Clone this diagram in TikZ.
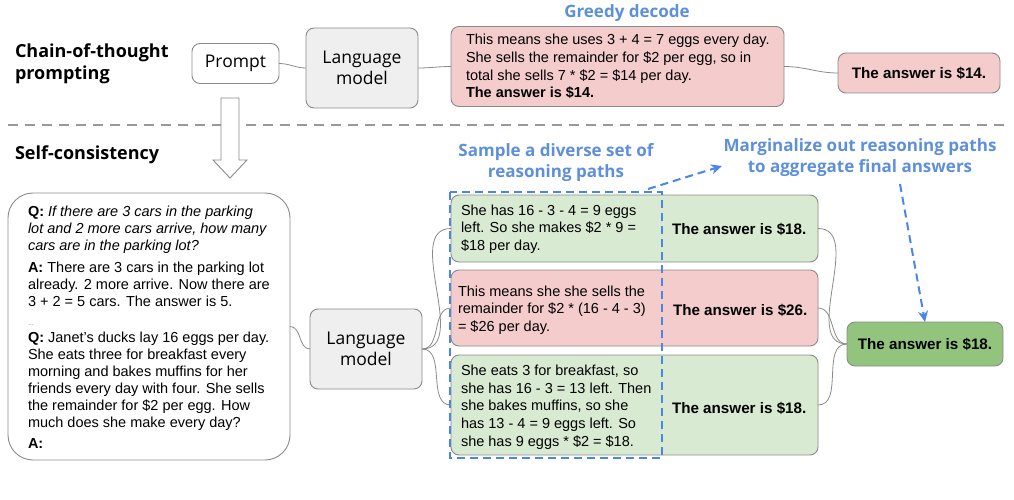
\documentclass[tikz,border=0pt]{standalone}
\usepackage{fontspec}
\setmainfont{Liberation Sans}
\newfontfamily\headfont{Open Sans}
\usetikzlibrary{positioning,arrows.meta}
\definecolor{redfill}{HTML}{F4CCCC}
\definecolor{greenfill}{HTML}{D9EAD3}
\definecolor{darkgreen}{HTML}{93C47D}
\definecolor{lmgray}{HTML}{EFEFEF}
\definecolor{edgegray}{HTML}{8A8A8A}
\definecolor{pathblue}{HTML}{4A86E8}
\definecolor{labelblue}{HTML}{5E8FDB}
\begin{document}
\begin{tikzpicture}[x=1pt, y=-1pt,
    every node/.style = {inner sep=0pt, outer sep=0pt},
    box/.style = {shape=rectangle, rounded corners=8pt, draw=edgegray, line width=0.9pt},
    lmbox/.style = {box, fill=lmgray, align=center, minimum width=112pt, minimum height=80pt,
      font=\headfont\fontsize{17.5}{21}\selectfont},
    redbox/.style = {box, fill=redfill},
    greenbox/.style = {box, fill=greenfill},
    body/.style = {align=left, anchor=west, font=\fontsize{14.5}{17.7}\selectfont},
    answer/.style = {anchor=west, font=\bfseries\fontsize{15.2}{18}\selectfont},
    heading/.style = {align=left, anchor=west, font=\headfont\bfseries\fontsize{18}{21.5}\selectfont},
    bluelabel/.style = {align=center, text=labelblue, font=\headfont\bfseries\fontsize{17}{21}\selectfont},
    link/.style = {draw=edgegray, line width=0.8pt},
    bluepath/.style = {draw=pathblue, line width=2pt, dash pattern=on 8pt off 5pt},
  ]
  \useasboundingbox (0,0) rectangle (1014,500);

  % chain-of-thought row
  \node[heading] (cot) at (15,64) {Chain-of-thought\\prompting};
  \node[box, minimum width=87pt, minimum height=40pt, font=\headfont\fontsize{17.5}{21}\selectfont] (prompt) at (235.5,63.5) {Prompt};
  \node[lmbox] (lmtop) at (362,68) {Language\\model};
  \node[redbox, minimum width=333pt, minimum height=80pt] (greedy) at (617.5,66.5) {};
  \node[body] at (466,66.5) {This means she uses 3 + 4 = 7 eggs every day.\\She sells the remainder for \$2 per egg, so in\\total she sells 7 * \$2 = \$14 per day.\\\textbf{The answer is \$14.}};
  \node[redbox, minimum width=162pt, minimum height=40pt, font=\bfseries\fontsize{15.2}{18}\selectfont] (ans14) at (919,73) {The answer is \$14.};
  \node[bluelabel] (greedylbl) at (627,13) {Greedy decode};

  \draw[link] (prompt.east) to[out=0,in=180] (lmtop.west);
  \draw[link] (lmtop.east) to[out=0,in=180] (greedy.west);
  \draw[link] (greedy.east) to[out=0,in=180] (ans14.west);

  % separator
  \draw[draw=gray!80, line width=2pt, dash pattern=on 10pt off 7pt] (8,125) -- (1005,125);
  \node[heading] (sc) at (15,155) {Self-consistency};
  \draw[edgegray, line width=0.9pt, fill=white] (221,98) -- (239,98) -- (239,160) -- (247,160)
    -- (230,178) -- (213,160) -- (221,160) -- cycle;

  % self-consistency row
  \node[box, rounded corners=25pt, minimum width=282pt, minimum height=267pt] (question) at (149,326.5) {};
  \node[align=left, anchor=west, font=\fontsize{14.5}{17}\selectfont] (qtext) at (28,327) {%
    \textbf{Q:} \textit{If there are 3 cars in the parking}\\
    \textit{lot and 2 more cars arrive, how many}\\
    \textit{cars are in the parking lot?}\\[5pt]
    \textbf{A:} There are 3 cars in the parking lot\\
    already. 2 more arrive. Now there are\\
    3 + 2 = 5 cars. The answer is 5.\\[2pt]
    {\fontsize{7}{9}\selectfont\color{gray}...}\\
    \textbf{Q:} Janet’s ducks lay 16 eggs per day.\\
    She eats three for breakfast every\\
    morning and bakes muffins for her\\
    friends every day with four. She sells\\
    the remainder for \$2 per egg. How\\
    much does she make every day?\\[4pt]
    \textbf{A:}};
  \node[lmbox] (lmbot) at (366,349) {Language\\model};
  \draw[link] (question.east) to[out=0,in=180] (lmbot.west);

  \node[greenbox, minimum width=367pt, minimum height=67pt] (path1) at (634.5,228.5) {};
  \node[body] at (461,229) {She has 16 - 3 - 4 = 9 eggs\\left. So she makes \$2 * 9 =\\\$18 per day.};
  \node[answer] at (672,229) {The answer is \$18.};
  \node[redbox, minimum width=367pt, minimum height=76pt] (path2) at (634.5,308) {};
  \node[body] at (458,310) {This means she she sells the\\remainder for \$2 * (16 - 4 - 3)\\= \$26 per day.};
  \node[answer] at (673,310) {The answer is \$26.};
  \node[greenbox, minimum width=367pt, minimum height=100pt] (path3) at (634.5,405) {};
  \node[body] at (461,407) {She eats 3 for breakfast, so\\she has 16 - 3 = 13 left. Then\\she bakes muffins, so she\\has 13 - 4 = 9 eggs left. So\\she has 9 eggs * \$2 = \$18.};
  \node[answer] at (672,408) {The answer is \$18.};

  \node[box, fill=darkgreen, minimum width=156pt, minimum height=44pt, font=\bfseries\fontsize{15.2}{18}\selectfont] (final) at (925,344) {The answer is \$18.};

  \foreach \p in {path1,path2,path3} {
    \draw[link] (lmbot.east) to[out=0,in=180] (\p.west);
    \draw[link] (\p.east) to[out=0,in=180] (final.west);
  }

  % sampling and marginalizing
  \draw[bluepath] (450,192) rectangle (662,458);
  \node[bluelabel] (samplelbl) at (556,163) {Sample a diverse set of\\reasoning paths};
  \node[bluelabel] (marglbl) at (860,158) {Marginalize out reasoning paths\\to aggregate final answers};
  \coordinate (samplecorner) at (648,189);
  \coordinate (margin) at (722,166);
  \coordinate (margout) at (900,184);
  \draw[bluepath, -{Stealth[length=11pt,width=10pt]}] (samplecorner) -- (margin);
  \draw[bluepath, -{Stealth[length=11pt,width=10pt]}] (margout) -- (final.north);
\end{tikzpicture}
\end{document}
